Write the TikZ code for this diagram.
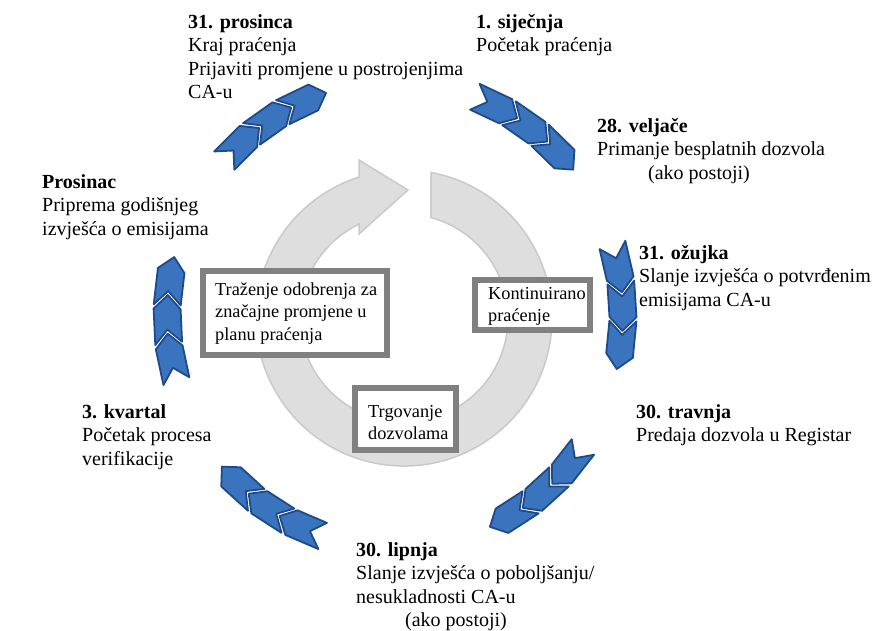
\documentclass[tikz,border=0pt]{standalone}
\usepackage{fontspec}
\setmainfont{Liberation Serif}
\definecolor{chevfill}{RGB}{58,116,190}
\definecolor{chevline}{RGB}{30,74,138}
\definecolor{ringfill}{RGB}{222,222,222}
\definecolor{ringline}{RGB}{202,202,202}
\definecolor{boxline}{RGB}{128,128,128}
\tikzset{
 chev/.style={fill=chevfill, draw=chevline, line width=1.8pt, line join=round},
 lbl/.style={anchor=north west, inner sep=0pt, align=left, font=\fontsize{20}{23.5}\selectfont},
 btxt/.style={anchor=north west, inner sep=0pt, align=left, font=\fontsize{18.3}{22.5}\selectfont},
 frame/.style={draw=boxline, fill=white, line width=6pt},
 ring/.style={fill=ringfill, draw=ringline, line width=1.5pt}
}
\newcommand\chevgroup[1]{%
 \foreach \k in {0,1,2}{%
   \pgfmathsetmacro\bb{#1+15.5-\k*9.5}%
   \pgfmathsetmacro\ff{\bb-11.9}%
   \pgfmathsetmacro\fd{\ff+3.4}%
   \pgfmathsetmacro\bd{\bb-3.4}%
   \draw[chev] (\bb:241.5) -- (\fd:241.5) -- (\ff:228) -- (\fd:214.5) -- (\bb:214.5) -- (\bd:228) -- cycle;
 }}
\begin{document}
\begin{tikzpicture}[x=1pt,y=1pt]
\useasboundingbox (0,0) rectangle (881,-631);
\fill[white] (0,0) rectangle (881,-631);

% grey cycle arrow
\draw[ring] (431,-172.5) arc[start angle=79.5, end angle=-252.3, radius=148]
  -- (359,-160) -- (408,-190) -- (359,-234) -- (359,-224.2)
  arc[start angle=-244.4, end angle=74.95, radius=104] -- cycle;

% blue chevron groups
\begin{scope}[shift={(395,-315)}, yscale=1.022]
\chevgroup{54}
\chevgroup{2}
\chevgroup{-50}
\chevgroup{-124}
\chevgroup{181}
\chevgroup{123}
\end{scope}

% inner boxes
\draw[frame] (203,-271) rectangle (387,-355);
\draw[frame] (475,-280) rectangle (590,-330);
\draw[frame] (355,-388) rectangle (456,-450);
\node[btxt] (trazenje) at (215,-279.25) {\strut Traženje odobrenja za\\značajne promjene u\\planu praćenja};
\node[btxt] (kontinuirano) at (488,-283.25) {\strut Kontinuirano\\praćenje};
\node[btxt] (trgovanje) at (368,-401.25) {\strut Trgovanje\\dozvolama};

% outer labels
\node[lbl] (prosinca) at (188,-11.55) {\strut\textbf{31. prosinca}\\Kraj praćenja\\Prijaviti promjene u postrojenjima\\CA-u};
\node[lbl] (sijecnja) at (476,-11.55) {\strut\textbf{1. siječnja}\\Početak praćenja};
\node[lbl] (veljace) at (597,-115.55) {\strut\textbf{28. veljače}\\Primanje besplatnih dozvola\\\hspace*{51pt}(ako postoji)};
\node[lbl] (ozujka) at (639,-242.55) {\strut\textbf{31. ožujka}\\Slanje izvješća o potvrđenim\\emisijama CA-u};
\node[lbl] (travnja) at (636,-401.55) {\strut\textbf{30. travnja}\\Predaja dozvola u Registar};
\node[lbl] (lipnja) at (356,-539.55) {\strut\textbf{30. lipnja}\\Slanje izvješća o poboljšanju/\\nesukladnosti CA-u\\\hspace*{49pt}(ako postoji)};
\node[lbl] (kvartal) at (82,-401.55) {\strut\textbf{3. kvartal}\\Početak procesa\\verifikacije};
\node[lbl] (prosinac) at (42,-171.55) {\strut\textbf{Prosinac}\\Priprema godišnjeg\\izvješća o emisijama};
\end{tikzpicture}
\end{document}
